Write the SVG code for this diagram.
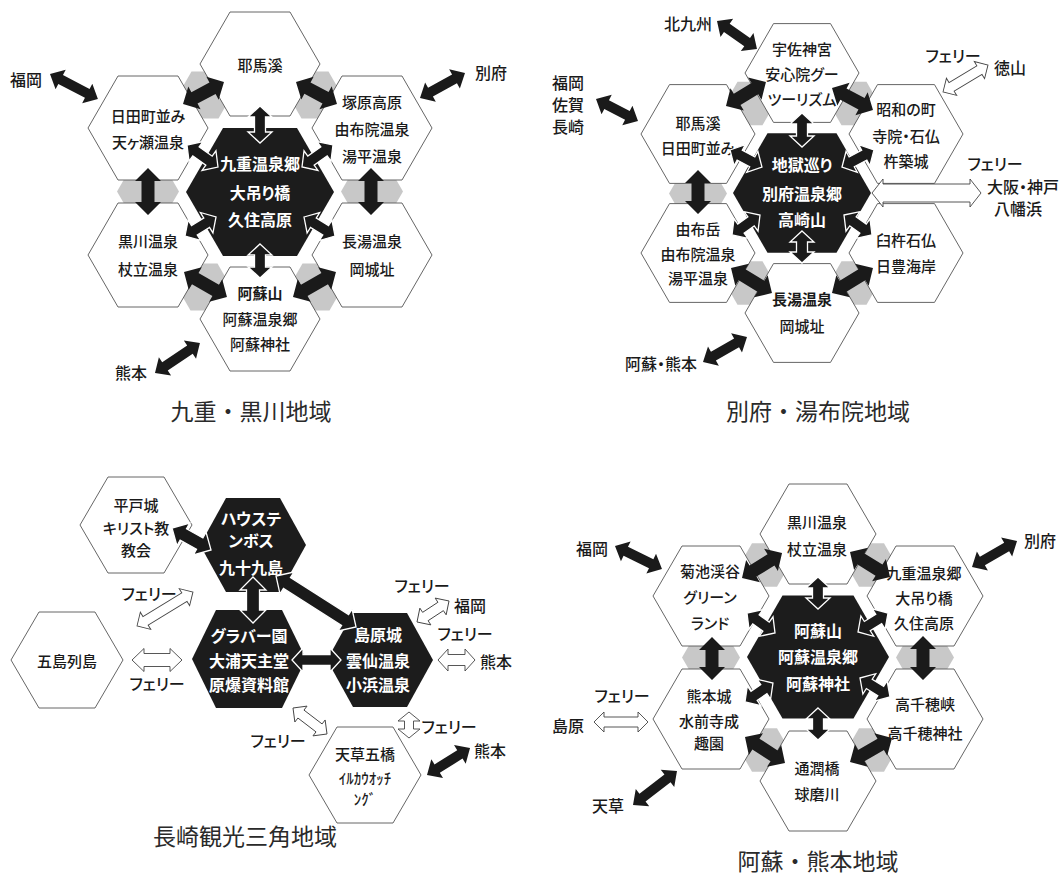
<svg xmlns="http://www.w3.org/2000/svg" xmlns:xlink="http://www.w3.org/1999/xlink" width="1059" height="876" viewBox="0 0 1059 876">
<style>
text { font-family: "Noto Sans CJK JP", "Noto Sans", sans-serif; dominant-baseline: central; text-anchor: middle; font-feature-settings: "palt"; }
.w { font-size: 15px; fill: #1a1a1a; font-weight: 500; }
.wb { font-weight: 700; }
.d { font-size: 16px; fill: #fff; font-weight: 700; }
.l { font-size: 16px; fill: #1a1a1a; font-weight: 500; }
.ti { font-size: 23px; fill: #2a2a2a; font-feature-settings: normal; }
.hw { fill: #fff; stroke: #555; stroke-width: 0.9; }
.hd { fill: #1c1c1c; }
.gr { fill: #c8c8c8; }
.a { fill: #1a1a1a; }
.aw { fill: #1a1a1a; stroke: #fff; stroke-width: 1.3; }
.f { fill: #fff; stroke: #444; stroke-width: 0.9; }
</style>
<defs>
<polygon id="h60" points="-60,0 -30,-52 30,-52 60,0 30,52 -30,52"/>
<polygon id="h57" points="-57,0 -28.5,-49.4 28.5,-49.4 57,0 28.5,49.4 -28.5,49.4"/>
<polygon id="h58" points="-58,0 -29,-50 29,-50 58,0 29,50 -29,50"/>
<polygon id="h56" points="-56,0 -28,-48 28,-48 56,0 28,48 -28,48"/>
<polygon id="d74" points="-74,0 -37,-64 37,-64 74,0 37,64 -37,64"/>
<polygon id="d69" points="-69,0 -34.5,-59.8 34.5,-59.8 69,0 34.5,59.8 -34.5,59.8"/>
<polygon id="d71" points="-71,0 -35.5,-61.5 35.5,-61.5 71,0 35.5,61.5 -35.5,61.5"/>
<polygon id="d53" points="-53,0 -27,-47 27,-47 53,0 27,47 -27,47"/>
<polygon id="g27" points="-27,0 -13.5,-23.4 13.5,-23.4 27,0 13.5,23.4 -13.5,23.4"/>
<polygon id="g25" points="-25,0 -12.5,-21.7 12.5,-21.7 25,0 12.5,21.7 -12.5,21.7"/>
<polygon id="g31" points="-31,0 -15.5,-26.8 15.5,-26.8 31,0 15.5,26.8 -15.5,26.8"/>
<polygon id="g29" points="-29,0 -14.5,-25.1 14.5,-25.1 29,0 14.5,25.1 -14.5,25.1"/>
</defs>
<rect width="1059" height="876" fill="#fff"/>

<!-- gray shading between hexes -->
<g id="shading">
<use href="#g27" class="gr" x="205" y="95"/>
<use href="#g27" class="gr" x="315" y="95"/>
<use href="#g31" class="gr" x="148" y="191.5"/>
<use href="#g31" class="gr" x="372" y="191.5"/>
<use href="#g27" class="gr" x="204" y="287"/>
<use href="#g27" class="gr" x="316" y="287"/>
<use href="#g25" class="gr" x="750" y="103.5"/>
<use href="#g25" class="gr" x="854" y="103.5"/>
<use href="#g29" class="gr" x="698" y="193.5"/>
<use href="#g25" class="gr" x="750" y="283"/>
<use href="#g25" class="gr" x="854" y="283"/>
<use href="#g25" class="gr" x="764.5" y="565"/>
<use href="#g25" class="gr" x="871.5" y="565"/>
<use href="#g29" class="gr" x="711" y="657.5"/>
<use href="#g29" class="gr" x="925" y="657.5"/>
<use href="#g25" class="gr" x="764.5" y="750"/>
<use href="#g25" class="gr" x="871.5" y="750"/>
</g>

<!-- ===== Q1 九重・黒川地域 ===== -->
<g id="q1-yabakei"><use href="#h60" class="hw" x="260" y="64"/><text class="w" x="260" y="64" font-size="16.5">耶馬溪</text></g>
<g id="q1-hita"><use href="#h60" class="hw" x="148" y="128"/><text class="w" x="148" y="115">日田町並み</text><text class="w" x="148" y="141">天ヶ瀬温泉</text></g>
<g id="q1-tsukahara"><use href="#h60" class="hw" x="372" y="128"/><text class="w" x="372" y="101" font-size="16">塚原高原</text><text class="w" x="372" y="128">由布院温泉</text><text class="w" x="372" y="155" font-size="16">湯平温泉</text></g>
<g id="q1-kurokawa"><use href="#h60" class="hw" x="148" y="255"/><text class="w" x="148" y="240" font-size="17">黒川温泉</text><text class="w" x="148" y="268" font-size="17">杖立温泉</text></g>
<g id="q1-nagayu"><use href="#h60" class="hw" x="372" y="255"/><text class="w" x="372" y="240" font-size="17">長湯温泉</text><text class="w" x="372" y="268" font-size="17">岡城址</text></g>
<g id="q1-aso"><use href="#h60" class="hw" x="260" y="319"/><text class="w wb" x="260" y="292" font-size="17">阿蘇山</text><text class="w" x="260" y="318">阿蘇温泉郷</text><text class="w" x="260" y="343" font-size="16">阿蘇神社</text></g>
<g id="q1-kuju"><use href="#d74" class="hd" x="260" y="192"/><text class="d" x="260" y="163" font-size="17">九重温泉郷</text><text class="d" x="260" y="192" font-size="17">大吊り橋</text><text class="d" x="260" y="219" font-size="17">久住高原</text></g>
<g id="q1-labels"><text class="l" x="26" y="79" font-size="17">福岡</text><text class="l" x="491" y="72" font-size="17">別府</text><text class="l" x="131" y="372" font-size="17">熊本</text><text class="ti" x="251" y="410">九重・黒川地域</text></g>

<!-- ===== Q2 別府・湯布院地域 ===== -->
<g id="q2-usa"><use href="#h57" class="hw" x="802" y="73"/><text class="w" x="802" y="48" font-size="16">宇佐神宮</text><text class="w" x="802" y="73" font-size="14">安心院グー</text><text class="w" x="802" y="98" font-size="14.5">ツーリズム</text></g>
<g id="q2-yabakei"><use href="#h57" class="hw" x="698" y="134"/><text class="w" x="698" y="122" font-size="16.5">耶馬溪</text><text class="w" x="698" y="147" font-size="14">日田町並み</text></g>
<g id="q2-showa"><use href="#h57" class="hw" x="906" y="134"/><text class="w" x="906" y="108" font-size="16">昭和の町</text><text class="w" x="906" y="135" font-size="15">寺院・石仏</text><text class="w" x="906" y="160" font-size="16">杵築城</text></g>
<g id="q2-yufu"><use href="#h57" class="hw" x="698" y="253"/><text class="w" x="698" y="228" font-size="16">由布岳</text><text class="w" x="698" y="253" font-size="14">由布院温泉</text><text class="w" x="698" y="277" font-size="15">湯平温泉</text></g>
<g id="q2-usuki"><use href="#h57" class="hw" x="906" y="253"/><text class="w" x="906" y="239" font-size="16">臼杵石仏</text><text class="w" x="906" y="265" font-size="16">日豊海岸</text></g>
<g id="q2-nagayu"><use href="#h57" class="hw" x="802" y="313"/><text class="w wb" x="802" y="298" font-size="16.5">長湯温泉</text><text class="w" x="802" y="325" font-size="16">岡城址</text></g>
<g id="q2-beppu"><use href="#d69" class="hd" x="802" y="193"/><text class="d" x="802" y="164">地獄巡り</text><text class="d" x="802" y="193">別府温泉郷</text><text class="d" x="802" y="219">高崎山</text></g>
<g id="q2-labels">
<text class="l" x="688" y="23">北九州</text>
<text class="l" x="568" y="82" font-size="15">福岡</text><text class="l" x="568" y="104" font-size="15">佐賀</text><text class="l" x="568" y="126" font-size="15">長崎</text>
<text class="l" x="953" y="55" font-size="15">フェリー</text><text class="l" x="1010" y="67" font-size="17">徳山</text>
<text class="l" x="995" y="163" font-size="14.5">フェリー</text><text class="l" x="1023" y="186" font-size="15">大阪・神戸</text><text class="l" x="1018" y="208" font-size="15">八幡浜</text>
<text class="l" x="661" y="363" font-size="15.5">阿蘇・熊本</text>
<text class="ti" x="818" y="410">別府・湯布院地域</text>
</g>

<!-- ===== Q3 長崎観光三角地域 ===== -->
<g id="q3-hirado"><use href="#h56" class="hw" x="136" y="525"/><text class="w" x="136" y="504" font-size="15">平戸城</text><text class="w" x="136" y="527" font-size="15">キリスト教</text><text class="w" x="136" y="549" font-size="15">教会</text></g>
<g id="q3-goto"><use href="#h56" class="hw" x="67" y="660"/><text class="w" x="67" y="660" font-size="16">五島列島</text></g>
<g id="q3-amakusa"><use href="#h56" class="hw" x="365" y="775"/><text class="w" x="365" y="753" font-size="16">天草五橋</text><text class="w" x="365" y="777" font-size="14">ｲﾙｶｳｵｯﾁ</text><text class="w" x="365" y="798" font-size="14">ﾝｸﾞ</text></g>
<g id="q3-huistenbosch"><use href="#d53" class="hd" x="253" y="545"/><text class="d" x="251" y="518" font-size="15">ハウステ</text><text class="d" x="251" y="540" font-size="15">ンボス</text><text class="d" x="251" y="567" font-size="15.5">九十九島</text></g>
<g id="q3-glover"><polygon class="hd" points="192,659 216,610 282,610 306,659 282,708 216,708"/><text class="d" x="249" y="635" font-size="15.5">グラバー園</text><text class="d" x="249" y="660" font-size="15">大浦天主堂</text><text class="d" x="249" y="684" font-size="15">原爆資料館</text></g>
<g id="q3-shimabara"><use href="#d53" class="hd" x="380" y="660"/><text class="d" x="378" y="634" font-size="16">島原城</text><text class="d" x="378" y="660" font-size="16">雲仙温泉</text><text class="d" x="378" y="684" font-size="16">小浜温泉</text></g>
<g id="q3-labels">
<text class="l" x="149" y="593" font-size="14.5">フェリー</text>
<text class="l" x="157" y="683" font-size="14.5">フェリー</text>
<text class="l" x="422" y="585" font-size="14.5">フェリー</text><text class="l" x="470" y="605">福岡</text>
<text class="l" x="465" y="633" font-size="14.5">フェリー</text><text class="l" x="496" y="661">熊本</text>
<text class="l" x="278" y="740" font-size="14.5">フェリー</text>
<text class="l" x="449" y="726" font-size="14.5">フェリー</text>
<text class="l" x="490" y="750">熊本</text>
<text class="ti" x="245" y="835">長崎観光三角地域</text>
</g>

<!-- ===== Q4 阿蘇・熊本地域 ===== -->
<g id="q4-kurokawa"><use href="#h58" class="hw" x="818" y="534"/><text class="w" x="817" y="521" font-size="16">黒川温泉</text><text class="w" x="817" y="548" font-size="16">杖立温泉</text></g>
<g id="q4-kikuchi"><use href="#h58" class="hw" x="711" y="596"/><text class="w" x="710" y="570" font-size="16">菊池渓谷</text><text class="w" x="710" y="596" font-size="16">グリーン</text><text class="w" x="710" y="622" font-size="16">ランド</text></g>
<g id="q4-kuju"><use href="#h58" class="hw" x="925" y="596"/><text class="w" x="924" y="572" font-size="14.5">九重温泉郷</text><text class="w" x="924" y="597" font-size="14.5">大吊り橋</text><text class="w" x="924" y="622" font-size="14.5">久住高原</text></g>
<g id="q4-kumamotojo"><use href="#h58" class="hw" x="711" y="719"/><text class="w" x="709" y="695" font-size="15.5">熊本城</text><text class="w" x="709" y="720" font-size="15">水前寺成</text><text class="w" x="709" y="742" font-size="15">趣園</text></g>
<g id="q4-takachiho"><use href="#h58" class="hw" x="925" y="719"/><text class="w" x="925" y="703" font-size="16">高千穂峡</text><text class="w" x="925" y="732" font-size="14.5">高千穂神社</text></g>
<g id="q4-tsujun"><use href="#h58" class="hw" x="818" y="781"/><text class="w" x="817" y="767" font-size="16">通潤橋</text><text class="w" x="817" y="793" font-size="16">球磨川</text></g>
<g id="q4-aso"><use href="#d71" class="hd" x="818" y="657"/><text class="d" x="818" y="630" font-size="17">阿蘇山</text><text class="d" x="818" y="656" font-size="16.5">阿蘇温泉郷</text><text class="d" x="818" y="683" font-size="16.5">阿蘇神社</text></g>
<g id="q4-labels">
<text class="l" x="592" y="548" font-size="17">福岡</text>
<text class="l" x="1040" y="540" font-size="17">別府</text>
<text class="l" x="622" y="695" font-size="15.5">フェリー</text>
<text class="l" x="568" y="725" font-size="17">島原</text>
<text class="l" x="608" y="805" font-size="17">天草</text>
<text class="ti" x="818" y="860">阿蘇・熊本地域</text>
</g>

<!-- ===== connectors ===== -->
<g id="connectors">
<!-- Q1 -->
<path class="a" transform="translate(50,74) rotate(27.5)" d="M0,0l12,-11v6h30v-6l12,11l-12,11v-6h-30v6z"/>
<path class="a" transform="translate(420,98) rotate(-29.1)" d="M0,0l12,-11v6h27.5v-6l12,11l-12,11v-6h-27.5v6z"/>
<path class="a" transform="translate(155,373) rotate(-33.7)" d="M0,0l12,-11v6h30v-6l12,11l-12,11v-6h-30v6z"/>
<path class="a" transform="translate(183,104) rotate(-28.2)" d="M0,0l13,-13v6.5h20.5v-6.5l13,13l-13,13v-6.5h-20.5v6.5z"/>
<path class="a" transform="translate(296,82) rotate(28.2)" d="M0,0l13,-13v6.5h20.5v-6.5l13,13l-13,13v-6.5h-20.5v6.5z"/>
<path class="a" transform="translate(148,168) rotate(90)" d="M0,0l13,-13v6.5h21v-6.5l13,13l-13,13v-6.5h-21v6.5z"/>
<path class="a" transform="translate(371,168) rotate(90)" d="M0,0l13,-13v6.5h21v-6.5l13,13l-13,13v-6.5h-21v6.5z"/>
<path class="a" transform="translate(184,272) rotate(30.2)" d="M0,0l13,-13v6.5h23.7v-6.5l13,13l-13,13v-6.5h-23.7v6.5z"/>
<path class="a" transform="translate(293,297) rotate(-30.2)" d="M0,0l13,-13v6.5h23.7v-6.5l13,13l-13,13v-6.5h-23.7v6.5z"/>
<path class="aw" transform="translate(260,106) rotate(90)" d="M0,0l11,-12v6.5h15v-6.5l11,12l-11,12v-6.5h-15v6.5z"/>
<path class="aw" transform="translate(187,145) rotate(35.4)" d="M0,0l11,-12v6.5h16v-6.5l11,12l-11,12v-6.5h-16v6.5z"/>
<path class="aw" transform="translate(302,167) rotate(-35.4)" d="M0,0l11,-12v6.5h16v-6.5l11,12l-11,12v-6.5h-16v6.5z"/>
<path class="aw" transform="translate(185,236) rotate(-31.5)" d="M0,0l11,-12v6.5h14.4v-6.5l11,12l-11,12v-6.5h-14.4v6.5z"/>
<path class="aw" transform="translate(304,217) rotate(31.5)" d="M0,0l11,-12v6.5h14.4v-6.5l11,12l-11,12v-6.5h-14.4v6.5z"/>
<path class="aw" transform="translate(260,244) rotate(90)" d="M0,0l11,-12v6.5h12v-6.5l11,12l-11,12v-6.5h-12v6.5z"/>
<!-- Q2 -->
<path class="a" transform="translate(717,21) rotate(35)" d="M0,0l12,-11v6h24.8v-6l12,11l-12,11v-6h-24.8v6z"/>
<path class="a" transform="translate(596,99) rotate(27.6)" d="M0,0l12,-11v6h23.4v-6l12,11l-12,11v-6h-23.4v6z"/>
<path class="a" transform="translate(703,362) rotate(-29.6)" d="M0,0l12,-11v6h26.6v-6l12,11l-12,11v-6h-26.6v6z"/>
<path class="f" transform="translate(943,92) rotate(-31)" d="M0,0l10,-10v5h32.5v-5l10,10l-10,10v-5h-32.5v5z"/>
<path class="f" transform="translate(872,193)" d="M0,0l11,-14v5h87v-5l11,14l-11,14v-5h-87v5z"/>
<path class="aw" transform="translate(802,113) rotate(90)" d="M0,0l11,-12v6.5h12v-6.5l11,12l-11,12v-6.5h-12v6.5z"/>
<path class="aw" transform="translate(730,150) rotate(28)" d="M0,0l11,-12v6.5h14.2v-6.5l11,12l-11,12v-6.5h-14.2v6.5z"/>
<path class="aw" transform="translate(842,167) rotate(-28)" d="M0,0l11,-12v6.5h14.2v-6.5l11,12l-11,12v-6.5h-14.2v6.5z"/>
<path class="aw" transform="translate(732,235) rotate(-35.5)" d="M0,0l11,-12v6.5h12.4v-6.5l11,12l-11,12v-6.5h-12.4v6.5z"/>
<path class="aw" transform="translate(844,215) rotate(35.5)" d="M0,0l11,-12v6.5h12.4v-6.5l11,12l-11,12v-6.5h-12.4v6.5z"/>
<path class="aw" transform="translate(802,231) rotate(90)" d="M0,0l11,-12v6.5h10v-6.5l11,12l-11,12v-6.5h-10v6.5z"/>
<path class="a" transform="translate(726,106) rotate(-31)" d="M0,0l13,-13v6.5h20.6v-6.5l13,13l-13,13v-6.5h-20.6v6.5z"/>
<path class="a" transform="translate(832,88) rotate(28.2)" d="M0,0l13,-13v6.5h20.5v-6.5l13,13l-13,13v-6.5h-20.5v6.5z"/>
<path class="a" transform="translate(698,170) rotate(90)" d="M0,0l13,-13v6.5h18v-6.5l13,13l-13,13v-6.5h-18v6.5z"/>
<path class="a" transform="translate(731,268) rotate(31.4)" d="M0,0l13,-13v6.5h22v-6.5l13,13l-13,13v-6.5h-22v6.5z"/>
<path class="a" transform="translate(832,293) rotate(-31.4)" d="M0,0l13,-13v6.5h22v-6.5l13,13l-13,13v-6.5h-22v6.5z"/>
<!-- Q3 -->
<path class="aw" transform="translate(172,528) rotate(29.4)" d="M0,0l13,-13v6.5h18.8v-6.5l13,13l-13,13v-6.5h-18.8v6.5z"/>
<path class="aw" transform="translate(253,577) rotate(90)" d="M0,0l13,-13v6.5h20v-6.5l13,13l-13,13v-6.5h-20v6.5z"/>
<path class="aw" transform="translate(276,576) rotate(32.5)" d="M0,0l13,-13v6.5h68.9v-6.5l13,13l-13,13v-6.5h-68.9v6.5z"/>
<path class="aw" transform="translate(292,660)" d="M0,0l11,-12v6.5h27v-6.5l11,12l-11,12v-6.5h-27v6.5z"/>
<path class="f" transform="translate(137,626) rotate(-31.3)" d="M0,0l10,-10v5h45.5v-5l10,10l-10,10v-5h-45.5v5z"/>
<path class="f" transform="translate(132,660)" d="M0,0l12,-11.5v5h26v-5l12,11.5l-12,11.5v-5h-26v5z"/>
<path class="f" transform="translate(417,622) rotate(-33.3)" d="M0,0l10,-10v5h18.3v-5l10,10l-10,10v-5h-18.3v5z"/>
<path class="f" transform="translate(438,660)" d="M0,0l10,-11v5.5h17v-5.5l10,11l-10,11v-5.5h-17v5.5z"/>
<path class="f" transform="translate(293,708) rotate(37.4)" d="M0,0l10,-10v5h22.8v-5l10,10l-10,10v-5h-22.8v5z"/>
<path class="f" transform="translate(409,712) rotate(90)" d="M0,0l9,-11v6.5h8v-6.5l9,11l-9,11v-6.5h-8v6.5z"/>
<path class="a" transform="translate(427,775) rotate(-32.1)" d="M0,0l12,-11v6h26.8v-6l12,11l-12,11v-6h-26.8v6z"/>
<!-- Q4 -->
<path class="a" transform="translate(615,546) rotate(26.1)" d="M0,0l12,-11v6h28.3v-6l12,11l-12,11v-6h-28.3v6z"/>
<path class="a" transform="translate(972,567) rotate(-30)" d="M0,0l12,-11v6h28v-6l12,11l-12,11v-6h-28v6z"/>
<path class="a" transform="translate(633,805) rotate(-37.7)" d="M0,0l12,-11v6h31.6v-6l12,11l-12,11v-6h-31.6v6z"/>
<path class="f" transform="translate(594,722)" d="M0,0l10,-10v5h34v-5l10,10l-10,10v-5h-34v5z"/>
<path class="a" transform="translate(742,578) rotate(-32)" d="M0,0l13,-13v6.5h21.2v-6.5l13,13l-13,13v-6.5h-21.2v6.5z"/>
<path class="a" transform="translate(850,552) rotate(32)" d="M0,0l13,-13v6.5h21.2v-6.5l13,13l-13,13v-6.5h-21.2v6.5z"/>
<path class="a" transform="translate(712,637) rotate(90)" d="M0,0l13,-13v6.5h17v-6.5l13,13l-13,13v-6.5h-17v6.5z"/>
<path class="a" transform="translate(923,636) rotate(90)" d="M0,0l13,-13v6.5h18v-6.5l13,13l-13,13v-6.5h-18v6.5z"/>
<path class="a" transform="translate(745,737) rotate(33)" d="M0,0l13,-13v6.5h21.7v-6.5l13,13l-13,13v-6.5h-21.7v6.5z"/>
<path class="a" transform="translate(850,762) rotate(-29.7)" d="M0,0l13,-13v6.5h22.4v-6.5l13,13l-13,13v-6.5h-22.4v6.5z"/>
<path class="aw" transform="translate(818,577) rotate(90)" d="M0,0l11,-12v6.5h10v-6.5l11,12l-11,12v-6.5h-10v6.5z"/>
<path class="aw" transform="translate(747,613) rotate(35.5)" d="M0,0l11,-12v6.5h12.4v-6.5l11,12l-11,12v-6.5h-12.4v6.5z"/>
<path class="aw" transform="translate(858,632) rotate(-32.3)" d="M0,0l11,-12v6.5h13.5v-6.5l11,12l-11,12v-6.5h-13.5v6.5z"/>
<path class="aw" transform="translate(745,702) rotate(-34.2)" d="M0,0l11,-12v6.5h11.8v-6.5l11,12l-11,12v-6.5h-11.8v6.5z"/>
<path class="aw" transform="translate(860,678) rotate(32.3)" d="M0,0l11,-12v6.5h13.5v-6.5l11,12l-11,12v-6.5h-13.5v6.5z"/>
<path class="aw" transform="translate(818,708) rotate(90)" d="M0,0l11,-12v6.5h10v-6.5l11,12l-11,12v-6.5h-10v6.5z"/>
</g>
</svg>
